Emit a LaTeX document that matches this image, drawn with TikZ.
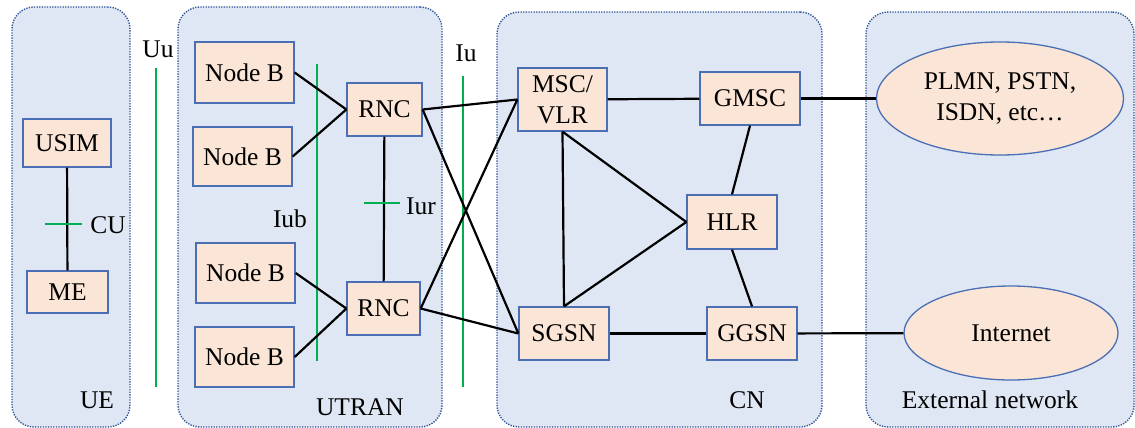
\documentclass[tikz,border=0pt]{standalone}
\usepackage{fontspec}
\setmainfont{Liberation Serif}
\usetikzlibrary{shapes.geometric}
\definecolor{zonefill}{HTML}{DFE7F4}
\definecolor{zoneline}{HTML}{2F5597}
\definecolor{boxfill}{HTML}{FBE5D6}
\definecolor{boxline}{HTML}{4A6FB5}
\definecolor{ifgreen}{HTML}{00B050}
\begin{document}
\begin{tikzpicture}[x=1pt,y=-1pt,
        font=\fontsize{25.5}{31}\selectfont,
        zone/.style={draw=zoneline,fill=zonefill,line width=1.4pt,dash pattern=on 1.3pt off 1.3pt,rounded corners=22pt,inner sep=0},
        box/.style={draw=boxline,fill=boxfill,line width=1.3pt,inner sep=0,align=center},
        cloud/.style={ellipse,draw=boxline,fill=boxfill,line width=1.3pt,inner sep=0,align=center},
        tag/.style={anchor=base,inner sep=0},
        link/.style={draw,line width=2.2pt},
        iface/.style={draw=ifgreen,line width=2pt}]
        \useasboundingbox (0,0) rectangle (1135,428);

        \node[zone,minimum width=118,minimum height=420] (ue) at (71,217) {};
        \node[zone,minimum width=264,minimum height=420] (utran) at (310,217) {};
        \node[zone,minimum width=325,minimum height=415] (cn) at (659.5,219.5) {};
        \node[zone,minimum width=268,minimum height=415] (ext) at (1000,219.5) {};

        \node[box,minimum width=88,minimum height=48] (usim) at (67,143) {USIM};
        \node[box,minimum width=81,minimum height=42] (me) at (67.5,292) {ME};

        \node[box,minimum width=99,minimum height=61] (nb1) at (244.5,72.5) {Node B};
        \node[box,minimum width=99,minimum height=59] (nb2) at (242.5,156.5) {Node B};
        \node[box,minimum width=99,minimum height=60] (nb3) at (245.5,273) {Node B};
        \node[box,minimum width=99,minimum height=60] (nb4) at (244.5,357) {Node B};
        \node[box,minimum width=75,minimum height=53] (rnc1) at (384.5,109.5) {RNC};
        \node[box,minimum width=73,minimum height=53] (rnc2) at (383.5,308.5) {RNC};

        \node[box,minimum width=89,minimum height=63] (msc) at (562.5,99.5) {MSC/\\VLR};
        \node[box,minimum width=100,minimum height=53] (gmsc) at (750,98.5) {GMSC};
        \node[box,minimum width=90,minimum height=54] (hlr) at (732,222) {HLR};
        \node[box,minimum width=90,minimum height=53] (sgsn) at (564,333.5) {SGSN};
        \node[box,minimum width=90,minimum height=53] (ggsn) at (752,333.5) {GGSN};

        \node[cloud,minimum width=247,minimum height=113] (pstn) at (1000,98.5) {PLMN, PSTN,\\ISDN, etc…};
        \node[cloud,minimum width=214,minimum height=94] (inet) at (1011,333) {Internet};

        \node[tag] (uelbl) at (97,408) {UE};
        \node[tag] (utranlbl) at (360,415) {UTRAN};
        \node[tag] (cnlbl) at (747,408) {CN};
        \node[tag] (extlbl) at (990,408) {External network};

        \coordinate (uutop) at (156,68);
        \coordinate (uubot) at (156,387);
        \coordinate (iubtop) at (317,64);
        \coordinate (iubbot) at (317,361);
        \coordinate (iutop) at (463,76);
        \coordinate (iubot) at (463,387);
        \coordinate (cul) at (45,224);
        \coordinate (cur) at (82,224);
        \coordinate (iurl) at (364,203);
        \coordinate (iurr) at (400,203);

        \path[iface] (uutop) -- (uubot);
        \path[iface] (iubtop) -- (iubbot);
        \path[iface] (iutop) -- (iubot);

        \node[tag] (uulbl) at (158,58) {Uu};
        \node[tag] (iublbl) at (290,227) {Iub};
        \node[tag] (iulbl) at (466,62) {Iu};
        \node[tag] (iurlbl) at (421,214) {Iur};
        \node[tag] (culbl) at (108,233) {CU};

        \path[link] (usim) -- (me);
        \path[link] (nb1.east) -- (rnc1.west);
        \path[link] (nb2.east) -- (rnc1.west);
        \path[link] (nb3.east) -- (rnc2.west);
        \path[link] (nb4.east) -- (rnc2.west);
        \path[link] (rnc1) -- (rnc2);
        \path[link] (rnc1.east) -- (msc.west);
        \path[link] (rnc1.east) -- (sgsn.west);
        \path[link] (rnc2.east) -- (msc.west);
        \path[link] (rnc2.east) -- (sgsn.west);
        \path[link] (msc) -- (gmsc);
        \path[link] (msc.south) -- (hlr.west);
        \path[link] (msc.south) -- (sgsn.north);
        \path[link] (sgsn.north) -- (hlr.west);
        \path[link] (gmsc.south) -- (hlr.north);
        \path[link] (hlr.south) -- (ggsn.north);
        \path[link] (sgsn) -- (ggsn);
        \path[link] (gmsc) -- (pstn);
        \path[link] (ggsn) -- (inet);

        \path[iface] (cul) -- (cur);
        \path[iface] (iurl) -- (iurr);
    \end{tikzpicture}
\end{document}
